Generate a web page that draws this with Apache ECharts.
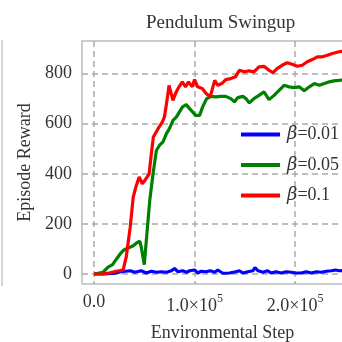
<!DOCTYPE html>
<html>
<head>
<meta charset="utf-8">
<script src="https://cdn.jsdelivr.net/npm/echarts@6/dist/echarts.min.js"></script>
<style>html,body{margin:0;padding:0;background:#fff}#c{width:342px;height:342px}</style>
</head>
<body>
<div id="c"></div>
<script>
const title = 'Pendulum Swingup';
const xName = 'Environmental Step';
const yName = 'Episode Reward';
const seriesNames = ['β=0.01', 'β=0.05', 'β=0.1'];
const xTicks = [0, 100000, 200000];
const yTicks = [0, 200, 400, 600, 800];

const blueSteps = [0,9000,19000,27000,36000,40600,47000,52000,57000,62000,67000,72000,77000,80000,83500,88000,92000,95000,100000,103000,106600,111500,115500,120000,123000,128000,134600,141000,144500,148000,153000,158000,160000,163000,168000,172600,176000,181000,186000,191000,196000,201000,206000,211000,216000,221000,226000,231000,236000,240000,244000,248000];
const blueVals  = [0,0,2,9,13,7,13,4,11,7,9,7,13,22,9,13,7,13,16,4,11,9,13,7,16,3,4,9,13,4,9,13,26,13,7,13,4,9,4,9,7,4,4,9,4,9,7,11,13,16,13,14];

const greenSteps = [0,9000,14000,18500,22400,26000,29700,34000,39000,42000,45500,47000,50000,52000,55400,58700,62000,65000,68600,72000,75000,78500,82000,85000,88000,91700,95000,98000,101000,105000,108000,112000,116500,121000,126000,131000,136000,139600,143000,148000,151000,154400,159000,164000,169000,174000,179000,184000,189000,194000,199000,204000,209000,214000,219000,224000,229000,234000,238600,243500,248000];
const greenVals  = [0,7,27,37,60,80,96,104,113,123,131,107,37,133,293,400,493,513,527,560,580,613,627,647,667,676,660,647,633,633,667,700,709,707,709,709,700,687,704,709,700,683,700,713,727,696,713,733,753,747,744,747,731,747,760,753,760,767,771,773,775];

const redSteps = [0,9000,16000,22400,29000,32000,36000,39000,41600,44900,48000,51000,54800,57000,59000,63700,68000,70000,72600,74600,78500,81000,84500,87800,91000,94000,97700,100000,103000,107600,111500,115500,120000,123000,127000,131000,136000,140600,144500,149500,154000,159000,164000,169000,174000,178000,182000,187000,192000,197000,202000,207000,212000,217000,222000,227000,232000,237000,243500,248000];
const redVals  = [0,0,5,11,16,67,187,307,347,387,360,376,400,480,547,580,607,627,693,753,693,720,747,767,747,767,747,776,747,740,720,707,773,753,760,776,780,787,813,807,811,807,827,829,813,804,820,833,843,837,829,833,847,856,867,867,873,880,887,890];

const colors = ['#0000ff', '#008000', '#ff0000'];
const font = 'Liberation Serif';

function pairs(xs, ys) { return xs.map((x, i) => [x, ys[i]]); }

const chart = echarts.init(document.getElementById('c'), null, {renderer: 'canvas'});
const dataSets = [pairs(blueSteps, blueVals), pairs(greenSteps, greenVals), pairs(redSteps, redVals)];

function fmtX(v) {
  if (v === 0) return '0.0';
  const m = (v / 100000).toFixed(1);
  return '{n|' + m + '×10}{s|5}';
}

chart.setOption({
  animation: false,
  backgroundColor: '#ffffff',
  title: {
    text: title, left: 141, top: 9,
    textStyle: {fontFamily: font, fontSize: 19, fontWeight: 'normal', color: '#333'}
  },
  graphic: [{
    type: 'line', shape: {x1: 2, y1: 40, x2: 2, y2: 286},
    style: {stroke: '#d4d4d4', lineWidth: 2}, silent: true
  }],
  grid: {left: 82, right: -5, top: 41, bottom: 58, show: true, borderColor: '#cccccc', borderWidth: 2, backgroundColor: '#fff', outerBoundsMode: 'none', containLabel: false},
  legend: {
    data: seriesNames,
    left: 236, top: 119, orient: 'vertical',
    icon: 'rect', itemWidth: 39, itemHeight: 4, itemGap: 9.5, itemStyle: {borderWidth: 0},
    formatter: function (name) { return '{b|β}' + name.slice(1); },
    textStyle: {
      fontFamily: font, fontSize: 18, color: '#333', lineHeight: 21, padding: [0, 0, 0, 2],
      rich: {b: {fontFamily: 'DejaVu Serif', fontStyle: 'italic', fontSize: 18, color: '#333'}}
    }
  },
  xAxis: {
    type: 'value', min: -11920, max: 251500,
    name: xName, nameLocation: 'middle', nameGap: 40,
    nameTextStyle: {fontFamily: font, fontSize: 18, color: '#333', padding: [0, 0, 0, 16]},
    axisLine: {show: false},
    axisTick: {show: false, customValues: xTicks},
    axisLabel: {
      customValues: xTicks, margin: 9, formatter: fmtX,
      fontFamily: font, fontSize: 18, color: '#333',
      rich: {
        n: {fontFamily: font, fontSize: 18, color: '#333', lineHeight: 22, verticalAlign: 'bottom'},
        s: {fontFamily: font, fontSize: 12, color: '#333', lineHeight: 22, verticalAlign: 'top'}
      }
    },
    splitLine: {show: true, lineStyle: {color: '#ababab', width: 1.5, type: [6, 4]}}
  },
  yAxis: {
    type: 'value', min: -40, max: 930,
    name: yName, nameLocation: 'middle', nameGap: 43, nameRotate: 90,
    nameTextStyle: {fontFamily: font, fontSize: 18, color: '#333'},
    axisLine: {show: false},
    axisTick: {show: false, customValues: yTicks},
    axisLabel: {customValues: yTicks, margin: 10, fontFamily: font, fontSize: 18, color: '#333'},
    splitLine: {show: true, lineStyle: {color: '#ababab', width: 1.5, type: [6, 4]}}
  },
  series: seriesNames.map((n, i) => ({
    name: n, type: 'line', data: dataSets[i], showSymbol: false, symbol: 'none',
    lineStyle: {color: colors[i], width: 3.2}, itemStyle: {color: colors[i]},
    clip: true
  }))
});
</script>
</body>
</html>
